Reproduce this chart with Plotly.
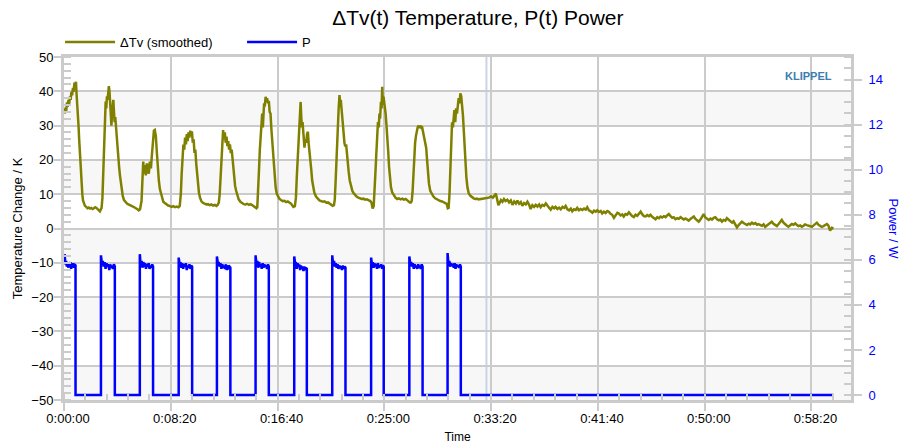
import plotly.graph_objects as go

# ---------------- data ----------------
# Temperature change (smoothed) [time s, K], one list per heating cycle
CYCLE_1 = [(3, 33.5), (7, 35.2), (10, 34.0), (14, 36.8), (17, 35.5), (21, 37.5), (24, 36.2), (28, 38.5),
           (31, 37.5), (35, 40.0), (38, 38.8), (42, 41.0), (45, 39.8), (49, 42.5), (52, 41.0), (56, 42.8),
           (59, 39.0), (62, 36.5), (65, 34.0), (68, 30.0), (71, 26.0), (74, 22.0), (77, 18.5), (80, 15.0),
           (83, 12.0), (86, 9.8), (89, 8.2), (93, 7.2), (98, 6.6), (104, 6.3), (110, 5.9), (116, 6.1),
           (122, 5.8), (128, 6.0), (134, 5.7), (140, 5.9), (146, 6.2), (152, 6.0), (158, 5.6), (164, 5.4),
           (168, 5.0), (172, 5.5), (176, 6.0)]
CYCLE_2 = [(180, 9.0), (183, 15.0), (186, 22.0), (189, 29.0), (192, 34.5), (195, 37.0), (198, 35.0),
           (201, 38.5), (204, 37.5), (207, 40.0), (210, 41.5), (213, 40.0), (216, 36.0), (219, 31.0),
           (222, 30.0), (225, 33.5), (228, 35.5), (231, 37.5), (234, 34.0), (237, 31.0), (240, 32.5),
           (243, 29.5), (246, 27.0), (250, 24.0), (254, 21.0), (258, 18.0), (262, 15.5), (266, 13.0),
           (270, 11.0), (275, 9.5), (281, 8.3), (288, 7.7), (295, 7.3), (302, 7.0), (309, 6.9), (316, 6.6),
           (323, 6.4), (330, 6.2), (337, 5.8), (344, 5.6), (350, 5.3), (356, 5.6)]
CYCLE_3 = [(363, 8.0), (367, 17.0), (371, 19.5), (374, 16.0), (378, 18.5), (383, 15.5), (388, 19.0),
           (393, 17.0), (397, 16.0), (402, 19.5), (407, 17.5), (411, 21.0), (416, 25.0), (421, 28.5),
           (425, 28.7), (430, 27.0), (435, 22.0), (439, 17.0), (444, 14.0), (449, 11.5), (458, 9.0),
           (465, 7.8), (472, 7.4), (480, 7.0), (488, 6.7), (496, 6.5), (504, 6.3), (512, 6.5), (520, 6.2),
           (528, 6.4), (536, 6.2), (542, 6.6)]
CYCLE_4 = [(547, 10.0), (551, 16.0), (555, 21.0), (559, 24.5), (563, 23.0), (567, 26.5), (571, 24.5),
           (575, 27.5), (579, 25.5), (583, 28.0), (587, 26.5), (591, 28.5), (595, 27.0), (599, 28.3),
           (603, 25.0), (607, 26.0), (611, 22.0), (615, 23.0), (619, 19.0), (623, 15.5), (627, 12.5),
           (632, 10.3), (637, 9.0), (643, 8.0), (650, 7.5), (658, 7.2), (666, 7.0), (674, 7.1), (682, 6.8),
           (690, 7.0), (698, 6.7), (706, 6.9), (714, 6.6), (720, 6.9), (725, 7.6)]
CYCLE_5 = [(729, 10.0), (733, 16.0), (737, 22.0), (741, 26.0), (745, 28.7), (749, 26.0), (753, 28.0),
           (757, 25.0), (761, 26.8), (765, 24.0), (769, 25.5), (773, 23.0), (777, 24.5), (781, 22.0),
           (785, 23.0), (789, 20.5), (793, 17.0), (797, 14.5), (801, 12.5), (806, 11.0), (812, 9.5),
           (818, 8.5), (826, 7.8), (834, 7.4), (842, 7.1), (850, 7.0), (858, 7.2), (866, 6.9), (874, 7.1),
           (882, 6.8), (890, 6.5), (896, 6.2), (901, 5.9)]
CYCLE_6 = [(905, 6.2), (909, 10.0), (913, 17.0), (917, 23.0), (921, 27.0), (925, 29.0), (928, 33.5),
           (931, 29.5), (934, 34.0), (937, 36.5), (940, 35.5), (944, 38.4), (948, 37.0), (951, 38.0),
           (955, 36.5), (959, 37.2), (963, 34.0), (967, 33.5), (971, 29.0), (975, 25.0), (979, 21.0),
           (983, 17.5), (987, 14.5), (991, 12.0), (996, 10.2), (1001, 9.3), (1008, 8.7), (1016, 8.3),
           (1024, 8.0), (1032, 8.1), (1040, 7.7), (1048, 7.9), (1056, 7.6), (1064, 7.2), (1070, 6.6),
           (1074, 6.3)]
CYCLE_7 = [(1081, 6.5), (1086, 9.0), (1090, 15.0), (1094, 21.0), (1098, 25.0), (1101, 27.5), (1104, 33.0),
           (1108, 36.9), (1111, 32.5), (1114, 29.5), (1117, 31.0), (1120, 27.0), (1123, 25.5), (1126, 23.6),
           (1130, 26.0), (1134, 25.0), (1138, 27.5), (1142, 28.2), (1146, 24.5), (1150, 22.5), (1154, 20.0),
           (1158, 17.0), (1162, 14.0), (1166, 12.3), (1172, 10.5), (1180, 9.3), (1188, 8.6), (1196, 8.2),
           (1204, 8.0), (1212, 7.8), (1220, 7.9), (1228, 7.5), (1236, 7.6), (1244, 7.3), (1252, 7.0),
           (1258, 6.6)]
CYCLE_8 = [(1264, 6.8), (1268, 8.5), (1272, 14.0), (1276, 21.0), (1280, 27.0), (1283, 30.5), (1286, 35.0),
           (1290, 38.9), (1293, 36.0), (1296, 37.5), (1299, 34.5), (1302, 33.5), (1305, 30.0), (1309, 28.0),
           (1313, 25.0), (1317, 23.9), (1321, 24.5), (1325, 21.0), (1329, 19.0), (1333, 16.5), (1338, 14.0),
           (1344, 12.0), (1350, 11.0), (1356, 10.3), (1363, 9.6), (1370, 9.3), (1378, 9.0), (1386, 8.8),
           (1394, 8.6), (1402, 8.7), (1410, 8.4), (1418, 8.5), (1426, 8.3), (1434, 8.0), (1440, 7.5),
           (1445, 5.8)]
CYCLE_9 = [(1450, 6.5), (1454, 10.0), (1458, 16.0), (1462, 21.3), (1466, 27.0), (1470, 31.0), (1474, 29.5),
           (1477, 33.5), (1480, 32.0), (1484, 36.9), (1487, 35.0), (1490, 41.3), (1493, 36.0), (1496, 38.4),
           (1499, 37.0), (1502, 36.0), (1506, 33.5), (1510, 30.0), (1514, 27.0), (1518, 22.5), (1522, 18.0),
           (1526, 15.0), (1531, 12.0), (1537, 10.5), (1544, 9.6), (1552, 9.0), (1560, 8.6), (1568, 8.8),
           (1576, 8.5), (1584, 8.7), (1592, 8.4), (1600, 8.6), (1608, 8.2), (1614, 7.8), (1619, 7.6)]
CYCLE_10 = [(1624, 7.6), (1628, 8.0), (1632, 10.5), (1636, 16.0), (1640, 21.0), (1644, 25.0), (1648, 27.0),
            (1652, 28.5), (1656, 29.5), (1660, 30.0), (1664, 29.3), (1668, 30.0), (1672, 29.5), (1676, 29.8),
            (1680, 28.5), (1684, 27.0), (1688, 25.5), (1692, 24.5), (1696, 23.5), (1700, 20.0), (1704, 16.5),
            (1709, 13.0), (1715, 11.0), (1722, 10.0), (1730, 9.3), (1738, 8.8), (1746, 8.5), (1754, 8.2),
            (1762, 8.0), (1770, 7.9), (1778, 7.7), (1786, 7.5), (1792, 7.2), (1797, 5.9)]
CYCLE_11 = [(1801, 6.0), (1805, 10.0), (1809, 17.0), (1813, 24.0), (1817, 31.0), (1821, 29.5), (1825, 33.0),
            (1828, 34.5), (1832, 31.0), (1836, 35.0), (1840, 33.5), (1844, 36.5), (1848, 38.0), (1852, 36.5),
            (1856, 39.4), (1860, 38.5), (1864, 36.0), (1868, 33.0), (1872, 28.5), (1876, 23.0), (1880, 18.5),
            (1884, 15.0), (1889, 12.0), (1895, 10.3), (1902, 9.6), (1910, 9.1), (1918, 8.8), (1926, 8.6),
            (1934, 8.7), (1942, 8.5), (1950, 8.6), (1958, 8.7), (1966, 8.6), (1974, 8.8), (1982, 9.0)]
COOLDOWN = [(1990, 9.0), (2000, 9.4), (2008, 9.0), (2016, 9.6), (2022, 10.2), (2028, 8.5), (2034, 6.8),
            (2040, 7.5), (2046, 8.3), (2053, 7.8), (2060, 8.6), (2067, 8.0), (2076, 8.4), (2084, 7.6),
            (2092, 8.2), (2100, 6.9), (2108, 7.9), (2116, 7.3), (2123, 8.1), (2131, 7.2), (2139, 7.7),
            (2146, 6.6), (2154, 7.4), (2162, 7.0), (2170, 7.8), (2178, 6.9), (2185, 5.7), (2193, 6.8),
            (2201, 6.3), (2209, 6.9), (2217, 6.4), (2225, 7.0), (2232, 6.2), (2240, 6.9), (2248, 6.6),
            (2256, 7.3), (2264, 6.5), (2272, 6.0), (2279, 5.5), (2287, 6.3), (2295, 5.9), (2302, 6.3),
            (2310, 5.7), (2318, 6.1), (2326, 5.6), (2334, 6.3), (2342, 6.0), (2349, 6.6), (2357, 5.6),
            (2365, 5.3), (2373, 5.8), (2380, 5.0), (2388, 5.6), (2396, 5.4), (2403, 6.0), (2411, 5.3),
            (2419, 5.7), (2427, 5.4), (2435, 5.8), (2443, 5.5), (2450, 6.2), (2458, 5.3), (2466, 5.0),
            (2474, 4.6), (2482, 5.2), (2490, 4.9), (2497, 5.3), (2505, 4.8), (2513, 5.1), (2520, 4.4),
            (2528, 4.9), (2536, 4.5), (2544, 5.1), (2551, 4.9), (2559, 4.3), (2567, 4.0), (2575, 3.1),
            (2583, 3.9), (2591, 4.6), (2598, 4.4), (2606, 3.8), (2614, 4.1), (2621, 3.5), (2629, 4.2),
            (2637, 4.0), (2645, 4.7), (2653, 3.9), (2660, 3.6), (2668, 3.3), (2676, 4.0), (2684, 3.7),
            (2692, 4.3), (2700, 4.9), (2708, 4.1), (2715, 3.6), (2723, 3.5), (2731, 3.9), (2739, 3.6),
            (2746, 4.0), (2754, 3.4), (2762, 3.1), (2770, 2.7), (2778, 3.3), (2786, 3.0), (2793, 3.5),
            (2801, 3.2), (2809, 3.6), (2817, 3.3), (2824, 3.8), (2832, 4.2), (2840, 3.6), (2848, 3.1),
            (2855, 3.3), (2863, 2.7), (2871, 3.0), (2879, 2.8), (2887, 3.3), (2894, 3.0), (2902, 2.6),
            (2910, 2.9), (2918, 2.5), (2925, 2.3), (2933, 2.8), (2941, 3.1), (2949, 3.5), (2957, 2.8),
            (2964, 2.5), (2972, 2.0), (2980, 2.6), (2988, 3.3), (2995, 4.2), (3003, 3.2), (3011, 2.8),
            (3019, 2.5), (3027, 2.9), (3034, 2.6), (3042, 3.1), (3050, 3.3), (3058, 2.7), (3066, 2.4),
            (3073, 2.6), (3081, 2.0), (3089, 2.5), (3097, 2.3), (3104, 3.0), (3112, 2.6), (3120, 2.1),
            (3128, 1.7), (3135, 2.1), (3143, 1.2), (3151, 0.3), (3159, 1.0), (3166, 1.5), (3174, 2.0),
            (3182, 1.6), (3190, 1.3), (3198, 1.0), (3206, 1.4), (3213, 1.2), (3221, 1.7), (3229, 1.3),
            (3237, 1.6), (3245, 1.1), (3252, 1.3), (3260, 1.0), (3268, 0.8), (3276, 1.2), (3283, 0.5),
            (3291, 0.9), (3299, 1.3), (3306, 1.6), (3314, 2.0), (3322, 1.4), (3330, 0.9), (3338, 0.7),
            (3346, 1.3), (3354, 1.8), (3361, 2.5), (3369, 1.7), (3377, 1.1), (3385, 0.8), (3392, 0.5),
            (3400, 0.9), (3408, 1.3), (3416, 1.1), (3424, 1.5), (3432, 1.0), (3439, 0.7), (3447, 0.9),
            (3455, 0.5), (3463, 0.8), (3470, 1.2), (3478, 1.0), (3486, 0.8), (3494, 0.6), (3502, 0.5),
            (3510, 0.9), (3518, 1.3), (3525, 1.7), (3533, 1.1), (3541, 0.8), (3548, 0.5), (3556, 0.7),
            (3564, 1.1), (3572, 1.3), (3579, 0.9), (3587, -0.6), (3595, 0.2), (3603, 0.0)]

# Power pulses: switch-on / switch-off times [s] and the on-level readings [W]
PULSE_ON = [3, 173, 355, 537, 716, 897, 1078, 1256, 1438, 1617, 1796]
PULSE_OFF = [54, 238, 417, 600, 779, 959, 1137, 1318, 1497, 1679, 1858]
PULSE_LEVELS = [
    [6.25, 5.8, 5.95, 5.7, 5.9, 5.65, 5.85, 5.75, 5.9, 5.6, 5.8, 5.7, 5.85, 5.65, 5.8, 5.75],
    [6.2, 5.85, 5.95, 5.7, 5.9, 5.6, 5.85, 5.7, 5.8, 5.55, 5.8, 5.65, 5.75, 5.6, 5.8, 5.7],
    [6.25, 5.75, 5.95, 5.65, 5.9, 5.7, 5.85, 5.6, 5.8, 5.7, 5.85, 5.6, 5.75, 5.65, 5.8, 5.7],
    [6.1, 5.8, 5.9, 5.65, 5.85, 5.6, 5.8, 5.7, 5.85, 5.55, 5.75, 5.65, 5.8, 5.6, 5.75, 5.7],
    [6.15, 5.85, 5.9, 5.7, 5.85, 5.6, 5.8, 5.65, 5.75, 5.6, 5.8, 5.55, 5.75, 5.65, 5.7, 5.65],
    [6.2, 5.8, 5.95, 5.65, 5.9, 5.7, 5.8, 5.6, 5.85, 5.65, 5.8, 5.7, 5.75, 5.6, 5.8, 5.7],
    [6.15, 5.85, 5.9, 5.6, 5.85, 5.7, 5.8, 5.55, 5.75, 5.6, 5.7, 5.5, 5.7, 5.55, 5.65, 5.6],
    [6.2, 5.8, 5.95, 5.7, 5.85, 5.65, 5.8, 5.6, 5.75, 5.65, 5.7, 5.55, 5.75, 5.6, 5.7, 5.65],
    [6.1, 5.8, 5.9, 5.65, 5.85, 5.7, 5.8, 5.6, 5.85, 5.65, 5.75, 5.7, 5.8, 5.6, 5.75, 5.7],
    [6.15, 5.85, 5.9, 5.7, 5.85, 5.6, 5.8, 5.65, 5.75, 5.6, 5.8, 5.65, 5.75, 5.6, 5.8, 5.7],
    [6.3, 5.8, 5.95, 5.7, 5.85, 5.75, 5.8, 5.65, 5.85, 5.6, 5.8, 5.7, 5.75, 5.65, 5.8, 5.7],
]
P_END_TIME = 3603

XTICK_SECONDS = [0, 500, 1000, 1500, 2000, 2500, 3000, 3500]
XTICK_LABELS = ["0:00:00", "0:08:20", "0:16:40", "0:25:00", "0:33:20", "0:41:40", "0:50:00", "0:58:20"]
CURSOR_TIME = 1978

# ---------------- build series ----------------
temp_pts = (CYCLE_1 + CYCLE_2 + CYCLE_3 + CYCLE_4 + CYCLE_5 + CYCLE_6 + CYCLE_7 + CYCLE_8
            + CYCLE_9 + CYCLE_10 + CYCLE_11 + COOLDOWN)
t_time = [p[0] for p in temp_pts]
t_delta = [p[1] for p in temp_pts]

p_time, p_watt = [], []
for i, (on, off, levels) in enumerate(zip(PULSE_ON, PULSE_OFF, PULSE_LEVELS)):
    if i > 0:
        p_time.append(on)
        p_watt.append(0.0)
    n = len(levels)
    for k, lv in enumerate(levels):
        p_time.append(on + (off - on) * k / (n - 1))
        p_watt.append(lv)
    p_time.append(off)
    p_watt.append(0.0)
p_time.append(P_END_TIME)
p_watt.append(0.0)

# ---------------- figure ----------------
FONT = "Liberation Sans, Arial, sans-serif"
GRID = "#cbcbcb"
OLIVE = "#808000"
BLUE = "#0000ff"

fig = go.Figure()
fig.add_trace(go.Scatter(x=t_time, y=t_delta, mode="lines", name="ΔTv (smoothed)",
                         line=dict(color=OLIVE, width=2.5), yaxis="y"))
fig.add_trace(go.Scatter(x=p_time, y=p_watt, mode="lines", name="P",
                         line=dict(color=BLUE, width=2.5), yaxis="y2"))

shapes = []
for lo in (30, 10, -10, -30, -50):
    shapes.append(dict(type="rect", xref="paper", yref="y", x0=0, x1=1, y0=lo, y1=lo + 10,
                       fillcolor="#f7f7f7", line=dict(width=0), layer="below"))
shapes.append(dict(type="line", xref="x", yref="paper", x0=CURSOR_TIME, x1=CURSOR_TIME, y0=0, y1=1,
                   line=dict(color="#c9d5e6", width=2), layer="below"))

fig.update_layout(
    width=905, height=448,
    margin=dict(l=64, r=54, t=57, b=48, autoexpand=False),
    paper_bgcolor="white", plot_bgcolor="white",
    font=dict(family=FONT, size=13, color="black"),
    title=dict(text="ΔTv(t) Temperature, P(t) Power", font=dict(size=21, color="black"),
               xref="container", x=0.528, xanchor="center", yref="container", y=0.96, yanchor="middle"),
    showlegend=True,
    legend=dict(orientation="h", x=-0.005, xanchor="left", y=1.0, yanchor="bottom",
                font=dict(size=13), bgcolor="rgba(0,0,0,0)", itemwidth=50, traceorder="normal",
                entrywidth=117, entrywidthmode="pixels"),
    shapes=shapes,
    xaxis=dict(range=[0, 3685], tickmode="array", tickvals=XTICK_SECONDS, ticktext=XTICK_LABELS,
               ticks="outside", ticklen=8, tickwidth=2, tickcolor=GRID, ticklabelshift=4,
               ticklabelstandoff=-4, automargin=False,
               showgrid=True, gridcolor=GRID, gridwidth=2, zeroline=False,
               showline=True, linecolor=GRID, linewidth=3, mirror=True,
               minor=dict(tickmode="linear", tick0=0, dtick=100, ticks="inside", ticklen=6,
                          tickwidth=2, tickcolor=GRID, showgrid=False),
               title=dict(text="Time", standoff=9, font=dict(size=12)),
               tickfont=dict(size=13, color="black")),
    yaxis=dict(range=[-50, 50], tickmode="linear", tick0=0, dtick=10,
               ticks="outside", ticklen=7, tickwidth=2, tickcolor=GRID, ticklabelstandoff=-2,
               automargin=False,
               showgrid=True, gridcolor=GRID, gridwidth=2, zeroline=False,
               showline=True, linecolor=GRID, linewidth=3,
               minor=dict(tickmode="linear", tick0=0, dtick=2, ticks="inside", ticklen=7,
                          tickwidth=2, tickcolor=GRID, showgrid=False),
               title=dict(text="Temperature Change / K", standoff=6, font=dict(size=13)),
               tickfont=dict(size=13, color="black")),
    yaxis2=dict(overlaying="y", side="right", range=[-0.22, 15.0], tickmode="linear", tick0=0, dtick=2,
                ticks="outside", ticklen=8, tickwidth=2, tickcolor=GRID, ticklabelstandoff=4,
                automargin=False,
                showgrid=False, zeroline=False, showline=True, linecolor=GRID, linewidth=3,
                minor=dict(tickmode="linear", tick0=0, dtick=0.5, ticks="inside", ticklen=7,
                           tickwidth=2, tickcolor=GRID, showgrid=False),
                tickfont=dict(size=13, color=BLUE)),
    annotations=[
        dict(text="Power / W", xref="paper", yref="paper", x=1.0534, y=0.5, xanchor="center",
             yanchor="middle", textangle=90, showarrow=False, font=dict(size=13, color=BLUE)),
        dict(text="<b>KLIPPEL</b>", xref="paper", yref="paper", x=0.9466, y=0.9446, xanchor="center",
             yanchor="middle", showarrow=False, font=dict(size=11, color="#3b7db0")),
    ],
)

fig.write_html("out.html", config={"displayModeBar": False},
               post_script="document.body.style.margin='0';document.body.style.padding='0';")
